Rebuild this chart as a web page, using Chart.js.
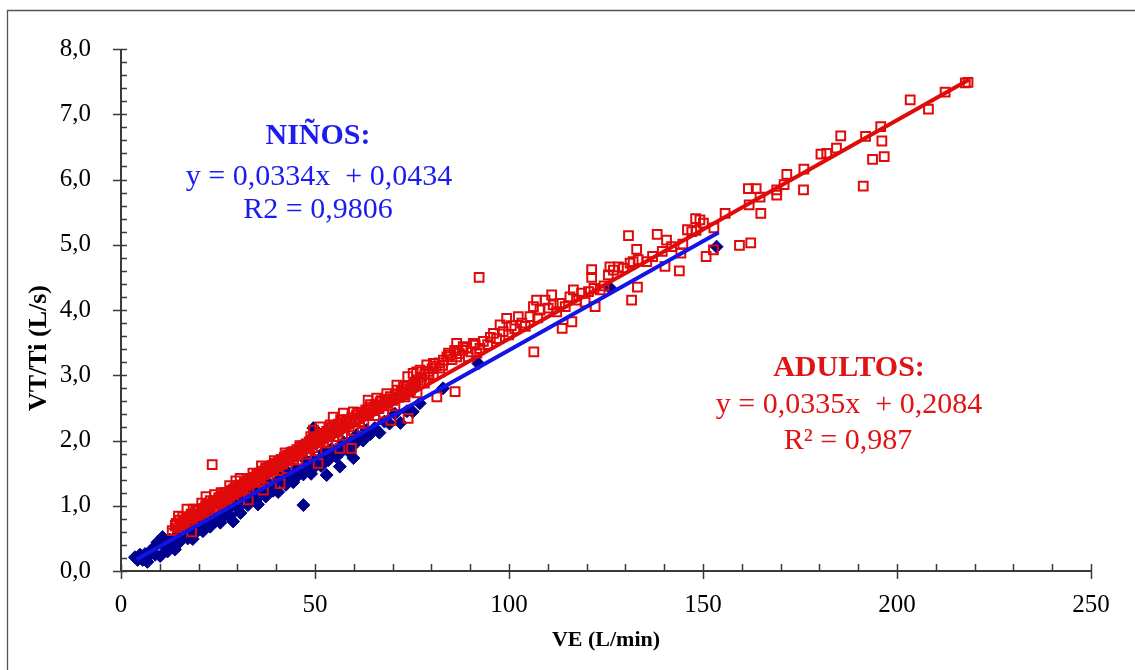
<!DOCTYPE html>
<html>
<head>
<meta charset="utf-8">
<script src="https://cdn.jsdelivr.net/npm/chart.js@4.4.1/dist/chart.umd.min.js"></script>
<style>
  html, body { margin: 0; padding: 0; background: #fff; }
  canvas { display: block; }
</style>
</head>
<body>
<canvas id="c" width="1135" height="670"></canvas>
<script>
// VE (L/min) vs VT/Ti (L/s) — adults (open squares) and children (diamonds)
const adultPoints = [
  [13.2,0.62],[14.0,0.70],[14.5,0.66],[15.2,0.78],[15.8,0.72],[16.3,0.74],[16.9,0.80],[17.4,0.76],
  [18.2,0.60],[18.0,0.85],[18.6,0.82],[19.1,0.88],[19.5,0.79],[20.0,0.92],[20.4,0.86],[20.9,0.95],
  [21.3,0.90],[21.8,0.99],[22.2,0.93],[22.6,1.02],[23.0,0.97],[23.5,1.63],[23.7,1.05],[24.1,0.98],
  [24.5,1.08],[24.9,1.03],[25.3,1.12],[25.7,1.06],[26.1,1.15],[26.4,1.09],[26.8,1.18],[27.2,1.11],
  [27.6,1.20],[28.0,1.14],[28.3,1.23],[28.7,1.17],[29.0,1.26],[29.6,1.38],[29.8,1.21],[30.2,1.29],
  [30.6,1.24],[31.0,1.32],[31.4,1.27],[31.8,1.35],[32.2,1.30],[32.8,1.09],[32.6,1.38],[33.0,1.33],
  [33.4,1.41],[33.8,1.36],[34.2,1.44],[34.6,1.39],[35.0,1.47],[35.3,1.42],[35.7,1.50],[36.1,1.45],
  [36.7,1.24],[36.5,1.53],[36.9,1.48],[37.3,1.56],[37.7,1.51],[38.1,1.59],[38.5,1.54],[38.9,1.62],
  [39.3,1.57],[39.7,1.65],[40.1,1.60],[41.0,1.34],[40.5,1.68],[40.9,1.63],[41.3,1.71],[41.7,1.66],
  [42.1,1.74],[42.5,1.69],[42.9,1.77],[43.3,1.72],[43.7,1.80],[44.1,1.75],[44.5,1.83],[44.9,1.78],
  [45.3,1.86],[45.7,1.81],[46.1,1.89],[46.5,1.84],[46.9,1.92],[47.3,1.87],[47.7,1.95],[48.1,1.90],
  [48.5,1.98],[48.9,1.93],[49.6,2.16],[49.3,2.01],[49.7,1.96],[50.1,2.04],[50.8,1.65],[50.5,1.99],
  [51.3,2.21],[51.0,2.07],[51.5,2.02],[52.0,2.11],[52.5,2.06],[53.0,2.14],[53.9,2.24],[53.5,2.09],
  [54.0,2.18],[54.7,2.36],[54.5,2.13],[55.0,2.21],[55.5,2.16],[56.4,1.88],[56.0,2.25],[56.6,2.20],
  [57.3,2.42],[57.1,2.28],[57.7,2.23],[58.2,2.32],[58.8,2.27],[59.4,1.88],[59.9,2.44],[59.5,2.35],
  [60.1,2.30],[60.7,2.39],[61.3,2.34],[61.9,2.43],[62.5,2.38],[63.1,2.47],[63.7,2.62],[63.7,2.42],
  [64.3,2.51],[64.9,2.46],[65.9,2.65],[65.5,2.55],[66.1,2.50],[66.8,2.59],[67.4,2.54],[68.5,2.72],
  [68.0,2.63],[68.7,2.58],[69.6,2.31],[69.4,2.67],[70.1,2.62],[71.1,2.85],[70.8,2.71],[71.5,2.66],
  [72.8,2.82],[72.2,2.75],[72.9,2.70],[73.9,2.98],[73.6,2.79],[74.0,2.34],[74.3,2.74],[75.3,3.03],
  [75.0,2.83],[76.2,3.05],[75.8,2.88],[77.1,3.08],[76.6,2.93],[77.5,2.97],[78.8,3.16],[78.3,3.01],
  [79.2,3.06],[80.5,3.18],[80.5,3.00],[80.2,3.10],[81.4,2.67],[81.2,3.14],[82.2,3.11],[82.0,3.19],
  [83.1,3.23],[82.9,3.15],[84.4,3.34],[84.0,3.28],[84.8,3.31],[85.3,3.24],[86.1,2.75],[86.5,3.49],
  [86.5,3.28],[86.0,3.38],[87.2,3.33],[88.2,3.44],[88.0,3.38],[89.5,3.28],[89.1,3.42],[90.8,3.49],
  [90.2,3.36],[91.7,3.34],[91.3,3.46],[92.3,4.50],[92.5,3.41],[93.4,3.52],[94.5,3.47],[95.2,3.58],
  [96.0,3.64],[96.8,3.56],[97.7,3.77],[98.5,3.67],[99.4,3.87],[99.9,3.62],[100.6,3.76],[101.5,3.71],
  [102.4,3.90],[103.3,3.80],[104.2,3.75],[105.4,3.90],[106.3,4.05],[106.4,3.36],[107.1,4.15],[107.4,3.88],
  [108.0,4.00],[109.3,4.15],[110.1,4.03],[111.0,4.23],[111.4,4.08],[112.3,3.97],[113.1,4.10],[113.7,3.72],
  [114.5,4.05],[115.7,4.20],[116.2,3.82],[116.6,4.31],[117.4,4.15],[118.7,4.26],[119.6,4.12],[120.5,4.28],
  [121.3,4.62],[121.3,4.50],[121.9,4.33],[122.2,4.05],[123.5,4.31],[124.5,4.37],[125.6,4.54],[126.0,4.66],
  [126.9,4.61],[128.2,4.66],[129.5,4.64],[130.8,5.14],[131.2,4.72],[131.6,4.15],[132.0,4.74],[132.9,4.93],
  [133.1,4.35],[133.3,4.77],[135.5,4.74],[137.0,4.82],[138.2,5.16],[139.5,4.90],[140.2,4.67],[140.6,5.07],
  [141.9,4.97],[143.9,4.60],[144.3,4.87],[144.8,5.01],[146.0,5.23],[147.1,5.20],[148.1,5.40],[148.2,5.22],
  [149.2,5.38],[150.1,5.33],[150.8,4.82],[152.7,4.92],[152.8,5.26],[155.7,5.48],[159.4,4.99],[161.7,5.86],
  [161.9,5.61],[162.3,5.03],[163.7,5.86],[164.7,5.73],[164.9,5.48],[169.0,5.84],[169.0,5.76],[170.9,5.92],
  [171.6,6.08],[175.9,5.84],[176.0,6.16],[180.4,6.39],[181.9,6.40],[184.4,6.48],[185.5,6.67],[191.3,5.90],
  [191.9,6.66],[193.7,6.31],[195.8,6.81],[196.1,6.59],[196.7,6.35],[203.4,7.22],[208.1,7.08],[212.4,7.34],
  [217.6,7.48],[218.3,7.49],
  // dense band, 14–80 L/min
  [14.2,0.73],[14.8,0.84],[15.3,0.67],[15.9,0.83],[16.4,0.78],[17.0,0.95],[17.5,0.72],[18.1,0.87],
  [18.6,0.95],[19.2,0.85],[19.7,0.95],[20.3,0.86],[20.8,1.04],[21.4,0.96],[21.9,1.14],[22.5,0.90],
  [23.0,1.08],[23.6,1.03],[24.1,1.17],[24.7,1.02],[25.2,1.12],[25.8,1.20],[26.3,1.04],[26.9,1.20],
  [27.4,1.14],[28.0,1.31],[28.5,1.21],[29.1,1.10],[29.6,1.31],[30.2,1.25],[30.7,1.42],[31.3,1.24],
  [31.8,1.35],[32.4,1.42],[32.9,1.26],[33.5,1.39],[34.0,1.50],[34.6,1.37],[35.1,1.48],[35.7,1.36],
  [36.2,1.61],[36.8,1.49],[37.3,1.58],[37.9,1.42],[38.4,1.57],[39.0,1.53],[39.5,1.69],[40.1,1.61],
  [40.6,1.54],[41.2,1.70],[41.7,1.64],[42.3,1.81],[42.8,1.57],[43.4,1.75],[43.9,1.82],[44.5,1.71],
  [45.0,1.82],[45.6,1.70],[46.1,1.92],[46.7,1.83],[47.2,1.91],[47.8,1.79],[48.3,1.91],[48.9,2.06],
  [49.4,1.89],[50.0,2.01],[50.5,1.84],[51.1,2.01],[51.6,2.10],[52.2,1.98],[52.7,2.08],[53.3,1.96],
  [53.8,2.08],[54.4,2.21],[54.9,2.06],[55.5,2.19],[56.0,2.13],[56.6,2.32],[57.1,2.08],[57.7,2.23],
  [58.2,2.30],[58.8,2.21],[59.3,2.31],[59.9,2.15],[60.4,2.29],[61.0,2.42],[61.5,2.29],[62.1,2.39],
  [62.6,2.26],[63.2,2.46],[63.8,2.39],[64.3,2.55],[64.9,2.46],[65.4,2.38],[66.0,2.54],[66.5,2.49],
  [67.1,2.61],[67.7,2.42],[68.2,2.58],[68.8,2.53],[69.4,2.67],[70.0,2.62],[70.6,2.53],[71.2,2.77],
  [71.9,2.67],[72.5,2.75],[73.2,2.67],[73.9,2.84],[74.6,2.77],[75.4,2.86],[76.3,2.73],[77.2,2.89],
  [78.2,2.88],[79.4,3.02]
];

const childPoints = [
  [3.6,0.21],[4.3,0.17],[4.9,0.25],[5.6,0.17],[6.2,0.26],[6.8,0.14],[7.5,0.25],[8.1,0.34],
  [8.8,0.25],[9.4,0.44],[10.1,0.23],[10.7,0.52],[11.3,0.37],[12.0,0.30],[12.6,0.48],[13.3,0.41],
  [13.9,0.33],[14.6,0.56],[15.2,0.45],[15.9,0.54],[16.5,0.81],[17.2,0.50],[17.8,0.60],[18.5,0.49],
  [19.1,0.72],[19.8,0.62],[20.4,0.71],[21.1,0.61],[21.7,0.82],[22.4,0.72],[23.0,0.68],[23.7,0.85],
  [24.3,0.76],[25.0,0.84],[25.6,0.74],[26.3,0.98],[26.9,0.86],[27.6,0.95],[28.2,0.85],[28.9,0.76],
  [29.5,1.06],[30.1,0.96],[30.8,0.89],[31.4,1.11],[32.1,1.06],[32.7,1.01],[33.4,1.21],[34.0,1.15],
  [34.7,1.09],[35.3,1.02],[36.0,1.26],[36.6,1.20],[37.3,1.14],[37.9,1.35],[38.6,1.28],[39.2,1.23],
  [39.9,1.36],[40.5,1.21],[41.2,1.48],[41.8,1.36],[42.5,1.32],[43.1,1.51],[43.8,1.45],[44.4,1.36],
  [45.1,1.56],[45.7,1.47],[46.4,1.55],[47.0,1.01],[47.0,1.48],[47.7,1.69],[48.3,1.59],[49.0,1.49],
  [49.6,2.19],[49.6,1.72],[50.0,2.08],[50.5,2.14],[50.3,1.62],[50.9,1.70],[51.6,1.61],[52.2,1.82],
  [52.9,1.73],[53.0,1.47],[53.5,1.70],[54.2,1.87],[54.8,1.81],[55.5,1.75],[56.4,1.60],[56.1,1.89],
  [56.8,1.83],[57.4,1.97],[58.1,1.90],[58.7,1.83],[59.9,1.73],[59.4,1.99],[60.0,1.93],[60.7,2.09],
  [61.5,2.03],[62.4,2.00],[63.3,2.16],[64.3,2.10],[65.4,2.19],[66.6,2.12],[67.9,2.29],[69.2,2.26],
  [70.6,2.41],[72.0,2.27],[73.7,2.45],[75.2,2.44],[77.0,2.57],[83.0,2.80],[92.1,3.18],[126.0,4.34],
  [153.5,4.97]
];

// Linear fits, as printed next to each group
const childFit = { slope: 0.0334, intercept: 0.0434, r2: '0,9806', from: 4, to: 154 };
const adultFit = { slope: 0.0335, intercept: 0.2084, r2: '0,987', from: 12.5, to: 218.5 };

const xTicks = [0, 50, 100, 150, 200, 250];
const yTicks = [0, 1, 2, 3, 4, 5, 6, 7, 8];

const RED = '#e00a0a';
const RED_TEXT = '#e01414';
const BLUE_LINE = '#1414e6';
const BLUE_TEXT = '#1c1cf0';
const NAVY = '#00008f';
const AXIS = '#3a3a3a';
const SERIF = "'Liberation Serif', 'Times New Roman', serif";

const toXY = pts => pts.map(p => ({ x: p[0], y: p[1] }));
const fitLine = f => [
  { x: f.from, y: f.slope * f.from + f.intercept },
  { x: f.to, y: f.slope * f.to + f.intercept }
];
const comma = (v, d) => v.toFixed(d).replace('.', ',');

// Axis lines with major/minor tick marks, frame and text annotations
const decorations = {
  id: 'decorations',
  beforeDraw(chart) {
    const { ctx } = chart;
    ctx.save();
    ctx.strokeStyle = '#555';
    ctx.lineWidth = 1.3;
    ctx.beginPath();
    ctx.moveTo(7.5, 670);
    ctx.lineTo(7.5, 10.5);
    ctx.lineTo(1135, 10.5);
    ctx.stroke();
    ctx.restore();
  },
  beforeDatasetsDraw(chart) {
    const { ctx, scales: { x, y } } = chart;
    const x0 = x.getPixelForValue(0), x1 = x.getPixelForValue(250);
    const y0 = y.getPixelForValue(0), y1 = y.getPixelForValue(8);
    ctx.save();
    ctx.strokeStyle = AXIS;
    ctx.lineWidth = 2;
    ctx.beginPath();
    ctx.moveTo(x0, y0); ctx.lineTo(x1, y0);
    ctx.moveTo(x0, y0); ctx.lineTo(x0, y1);
    ctx.stroke();
    ctx.lineWidth = 1.5;
    ctx.beginPath();
    for (let v = 0; v <= 250; v += 10) {
      const px = Math.round(x.getPixelForValue(v)) + 0.5;
      const major = v % 50 === 0;
      ctx.moveTo(px, y0 + (major ? 8 : 0));
      ctx.lineTo(px, y0 - 7);
    }
    for (let i = 0; i <= 40; i++) {
      const v = i / 5;
      const py = Math.round(y.getPixelForValue(v)) + 0.5;
      const major = i % 5 === 0;
      ctx.moveTo(x0 - (major ? 8 : 0), py);
      ctx.lineTo(x0 + 6, py);
    }
    ctx.stroke();
    ctx.restore();
  },
  afterDraw(chart) {
    const { ctx } = chart;
    ctx.save();
    ctx.textAlign = 'center';
    ctx.textBaseline = 'middle';
    ctx.fillStyle = '#000';
    ctx.font = `bold 22px ${SERIF}`;
    ctx.fillText('VE (L/min)', 606, 640);
    ctx.save();
    ctx.translate(39, 348);
    ctx.rotate(-Math.PI / 2);
    ctx.font = `bold 26px ${SERIF}`;
    ctx.fillText('VT/Ti (L/s)', 0, 0);
    ctx.restore();

    // children fit annotation
    ctx.fillStyle = BLUE_TEXT;
    ctx.font = `bold 30px ${SERIF}`;
    ctx.fillText('NIÑOS:', 318, 136);
    ctx.font = `30px ${SERIF}`;
    ctx.fillText(`y = ${comma(childFit.slope, 4)}x  + ${comma(childFit.intercept, 4)}`, 319, 177);
    ctx.fillText(`R2 = ${childFit.r2}`, 318, 210);

    // adult fit annotation
    ctx.fillStyle = RED_TEXT;
    ctx.font = `bold 30px ${SERIF}`;
    ctx.fillText('ADULTOS:', 849, 368);
    ctx.font = `30px ${SERIF}`;
    ctx.fillText(`y = ${comma(adultFit.slope, 4)}x  + ${comma(adultFit.intercept, 4)}`, 849, 405);
    ctx.fillText(`R\u00B2 = ${adultFit.r2}`, 848, 441);
    ctx.restore();
  }
};

new Chart(document.getElementById('c'), {
  type: 'scatter',
  data: {
    datasets: [
      {
        label: 'Adultos (ajuste)',
        data: fitLine(adultFit),
        showLine: true,
        borderColor: RED,
        borderWidth: 4,
        pointRadius: 0,
        order: 0
      },
      {
        label: 'Niños (ajuste)',
        data: fitLine(childFit),
        showLine: true,
        borderColor: BLUE_LINE,
        borderWidth: 4,
        pointRadius: 0,
        order: 1
      },
      {
        label: 'Adultos',
        data: toXY(adultPoints),
        pointStyle: 'rect',
        pointRadius: 6.2,
        borderWidth: 2,
        borderColor: RED,
        backgroundColor: 'rgba(0,0,0,0)',
        order: 2
      },
      {
        label: 'Niños',
        data: toXY(childPoints),
        pointStyle: 'rectRot',
        pointRadius: 6.5,
        borderWidth: 1,
        borderColor: NAVY,
        backgroundColor: NAVY,
        order: 3
      }
    ]
  },
  options: {
    responsive: false,
    animation: false,
    devicePixelRatio: 1,
    layout: { padding: { left: 0, right: 44, top: 49, bottom: 0 } },
    plugins: { legend: { display: false }, tooltip: { enabled: false } },
    scales: {
      x: {
        type: 'linear',
        min: 0, max: 250,
        afterBuildTicks: s => { s.ticks = xTicks.map(v => ({ value: v })); },
        afterFit: s => { s.height = 99; },
        grid: { display: false },
        border: { display: false },
        ticks: {
          padding: 11,
          color: '#000',
          font: { family: SERIF, size: 25 },
          callback: v => String(v)
        }
      },
      y: {
        type: 'linear',
        min: 0, max: 8,
        afterBuildTicks: s => { s.ticks = yTicks.map(v => ({ value: v })); },
        afterFit: s => { s.width = 121; },
        grid: { display: false },
        border: { display: false },
        ticks: {
          padding: 22,
          color: '#000',
          font: { family: SERIF, size: 25 },
          callback: v => comma(v, 1)
        }
      }
    }
  },
  plugins: [decorations]
});
</script>
</body>
</html>
